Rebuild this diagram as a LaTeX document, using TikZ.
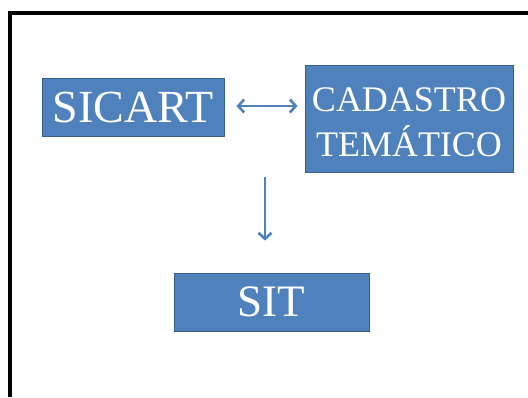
\documentclass[tikz,border=0pt]{standalone}
\usepackage{fontspec}
\setmainfont{Liberation Serif}
\usetikzlibrary{arrows.meta}
\definecolor{boxfill}{HTML}{4F81BD}
\definecolor{boxline}{HTML}{385D8A}
\tikzset{
  bluebox/.style={draw=boxline, line width=0.8pt, fill=boxfill, text=white,
    inner sep=0pt, align=center},
  barbtip/.tip={Straight Barb[length=6pt,width=13pt]},
  link/.style={draw=boxfill, line width=2.6pt, arrows={barbtip-barbtip}},
  downlink/.style={draw=boxfill, line width=2.6pt, arrows={-barbtip}}
}
\begin{document}
\begin{tikzpicture}[x=1pt,y=-1pt]
  \useasboundingbox (0,0) rectangle (528,397);
  \fill[white] (0,0) rectangle (528,397);
  % frame
  \draw[line width=4pt] (10,397) -- (10,13) -- (528,13);
  % boxes
  \node[bluebox, minimum width=182pt, minimum height=58pt,
        font=\fontsize{46}{50}\selectfont] (sicart) at (133,107) {SICART};
  \node[bluebox, minimum width=208pt, minimum height=107pt,
        font=\fontsize{36}{45}\selectfont] (cad) at (409,118.5) {\rule{0pt}{31pt}CADASTRO\\TEMÁTICO};
  \node[bluebox, minimum width=195pt, minimum height=58pt,
        font=\fontsize{45}{50}\selectfont] (sit) at (271.5,302) {SIT};
  % connectors
  \draw[link] ([xshift=12pt,yshift=1pt]sicart.east) -- ([xshift=-7pt,yshift=1pt]sicart.east -| cad.west);
  \coordinate (dtop) at (265,177);
  \draw[downlink] (dtop) -- ([yshift=32pt]dtop |- sit.north);
\end{tikzpicture}
\end{document}
